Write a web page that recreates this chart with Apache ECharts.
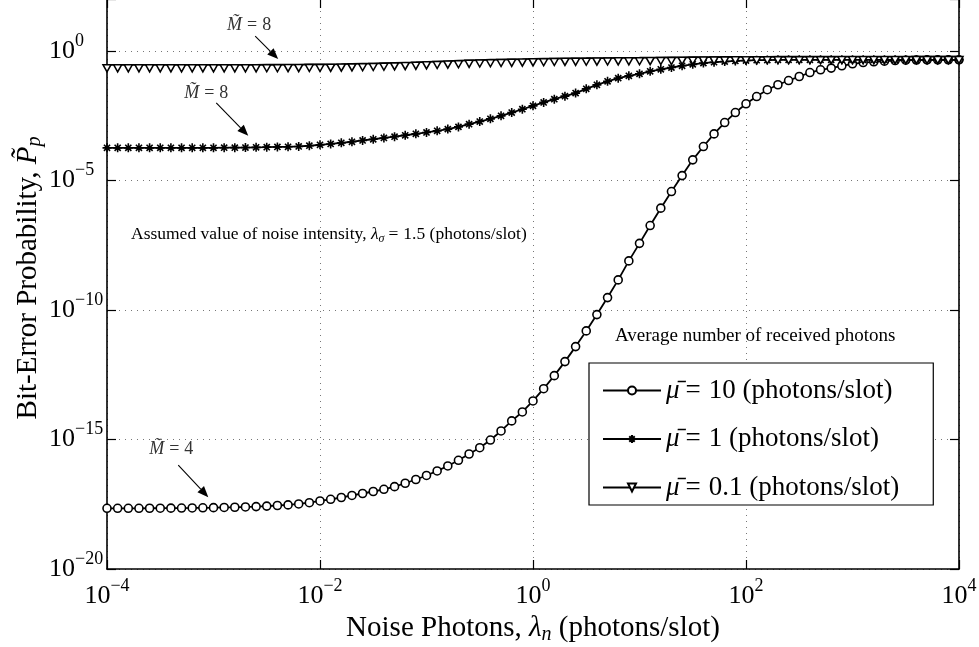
<!DOCTYPE html>
<html>
<head>
<meta charset="utf-8">
<script src="https://cdn.jsdelivr.net/npm/echarts@6/dist/echarts.min.js"></script>
<style>
  html, body { margin: 0; padding: 0; background: #fff; }
  #chart { width: 979px; height: 647px; }
</style>
</head>
<body>
<div id="chart"></div>
<script>
// Noise photons per slot (x), 10 samples per decade from 1e-4 to 1e4
const noisePhotons = [
  1e-4, 1.259e-4, 1.585e-4, 1.995e-4, 2.512e-4, 3.162e-4, 3.981e-4, 5.012e-4, 6.31e-4, 7.943e-4,
  1e-3, 1.259e-3, 1.585e-3, 1.995e-3, 2.512e-3, 3.162e-3, 3.981e-3, 5.012e-3, 6.31e-3, 7.943e-3,
  1e-2, 1.259e-2, 1.585e-2, 1.995e-2, 2.512e-2, 3.162e-2, 3.981e-2, 5.012e-2, 6.31e-2, 7.943e-2,
  0.1, 0.1259, 0.1585, 0.1995, 0.2512, 0.3162, 0.3981, 0.5012, 0.631, 0.7943,
  1, 1.259, 1.585, 1.995, 2.512, 3.162, 3.981, 5.012, 6.31, 7.943,
  10, 12.59, 15.85, 19.95, 25.12, 31.62, 39.81, 50.12, 63.1, 79.43,
  100, 125.9, 158.5, 199.5, 251.2, 316.2, 398.1, 501.2, 631, 794.3,
  1000, 1259, 1585, 1995, 2512, 3162, 3981, 5012, 6310, 7943,
  10000
];

// Bit-error probability, mean signal 10 photons/slot (M = 4)
const berMu10 = [
  2.2e-18, 2.2e-18, 2.2e-18, 2.2e-18, 2.21e-18, 2.22e-18, 2.23e-18, 2.25e-18, 2.27e-18, 2.3e-18,
  2.33e-18, 2.37e-18, 2.42e-18, 2.48e-18, 2.56e-18, 2.68e-18, 2.82e-18, 2.98e-18, 3.24e-18, 3.63e-18,
  4.22e-18, 4.9e-18, 5.75e-18, 6.9e-18, 8.2e-18, 9.8e-18, 1.19e-17, 1.51e-17, 2.04e-17, 2.85e-17,
  4.07e-17, 6.1e-17, 9.5e-17, 1.57e-16, 2.75e-16, 4.8e-16, 9.5e-16, 2.13e-15, 5.2e-15, 1.15e-14,
  3.06e-14, 9.1e-14, 2.9e-13, 1.01e-12, 3.83e-12, 1.55e-11, 6.6e-11, 2.99e-10, 1.44e-9, 7.8e-9,
  3.7e-8, 1.8e-7, 8.45e-7, 3.7e-6, 1.53e-5, 6.2e-5, 2.02e-4, 6.2e-4, 1.7e-3, 4.15e-3,
  9.0e-3, 0.0172, 0.0315, 0.049, 0.0713, 0.102, 0.145, 0.185, 0.215, 0.264,
  0.315, 0.353, 0.376, 0.40, 0.422, 0.434, 0.441, 0.446, 0.449, 0.45,
  0.45
];

// Bit-error probability, mean signal 1 photon/slot (M = 8)
const berMu1 = [
  1.8e-4, 1.8e-4, 1.8e-4, 1.8e-4, 1.8e-4, 1.8e-4, 1.8e-4, 1.8e-4, 1.8e-4, 1.8e-4,
  1.8e-4, 1.82e-4, 1.83e-4, 1.85e-4, 1.88e-4, 1.91e-4, 1.95e-4, 1.98e-4, 2.04e-4, 2.17e-4,
  2.35e-4, 2.54e-4, 2.8e-4, 3.09e-4, 3.47e-4, 3.86e-4, 4.34e-4, 4.86e-4, 5.51e-4, 6.24e-4,
  7.07e-4, 8.15e-4, 9.5e-4, 1.16e-3, 1.48e-3, 1.86e-3, 2.37e-3, 3.09e-3, 4.15e-3, 5.56e-3,
  7.52e-3, 0.0102, 0.0136, 0.0178, 0.0233, 0.0341, 0.0486, 0.0664, 0.0883, 0.108,
  0.129, 0.162, 0.193, 0.227, 0.264, 0.301, 0.335, 0.363, 0.386, 0.407,
  0.422, 0.434, 0.441, 0.45, 0.45, 0.45, 0.45, 0.45, 0.45, 0.45,
  0.45, 0.45, 0.45, 0.45, 0.45, 0.45, 0.45, 0.45, 0.45, 0.45,
  0.45
];

// Bit-error probability, mean signal 0.1 photons/slot (M = 8)
const berMu01 = [
  0.288, 0.288, 0.288, 0.288, 0.288, 0.288, 0.288, 0.288, 0.288, 0.288,
  0.288, 0.288, 0.288, 0.288, 0.288, 0.29, 0.29, 0.293, 0.293, 0.296,
  0.298, 0.301, 0.306, 0.312, 0.318, 0.323, 0.332, 0.341, 0.35, 0.36,
  0.373, 0.386, 0.40, 0.415, 0.43, 0.441, 0.453, 0.461, 0.47, 0.478,
  0.487, 0.496, 0.504, 0.509, 0.514, 0.518, 0.523, 0.527, 0.532, 0.537,
  0.541, 0.546, 0.55, 0.555, 0.56, 0.565, 0.571, 0.575, 0.578, 0.582,
  0.586, 0.587, 0.588, 0.589, 0.59, 0.591, 0.592, 0.593, 0.594, 0.595,
  0.596, 0.597, 0.598, 0.598, 0.599, 0.599, 0.6, 0.6, 0.6, 0.6,
  0.6
];

const seriesNames = ['mu10', 'mu1', 'mu01'];
const legendValues = ['10', '1', '0.1'];

// Arrow annotations: tip in data space, tail and label offsets in pixels
const arrowNotes = [
  { m: '8', tip: [4.05e-3, 0.478], tail: [-23, -23], label: [-29, -34] },
  { m: '8', tip: [2.12e-3, 5.22e-4], tail: [-32, -33], label: [-42, -43] },
  { m: '4', tip: [8.93e-4, 5.9e-18], tail: [-30, -32], label: [-37, -48] }
];

const SERIF = '"Liberation Serif", "DejaVu Serif", serif';
const pair = (ys) => noisePhotons.map((x, i) => [x, ys[i]]);

function powLabel(v) {
  const e = Math.round(Math.log10(v));
  return '{b|10}{s|' + (e < 0 ? '\u2212' : '') + Math.abs(e) + '}';
}
const powRich = {
  b: { fontSize: 26, fontFamily: SERIF, color: '#000', lineHeight: 38 },
  s: { fontSize: 18, fontFamily: SERIF, color: '#000', verticalAlign: 'top', lineHeight: 16 }
};

function titleRich(size) {
  return {
    r: { fontSize: size, fontFamily: SERIF, color: '#000', lineHeight: size + 4 },
    i: { fontSize: size, fontFamily: SERIF, fontStyle: 'italic', color: '#000', lineHeight: size + 4 },
    sub: { fontSize: Math.round(size * 0.68), fontFamily: SERIF, fontStyle: 'italic', color: '#000',
           verticalAlign: 'bottom', lineHeight: size - 2 }
  };
}

const lineStyle = { color: '#000', width: 1.8 };
const starPath = 'path://M5,0L5,10M0,5L10,5M1.6,1.6L8.4,8.4M8.4,1.6L1.6,8.4';
const triPath = 'path://M0,0L10,0L5,8.7Z';
const tickStyle = { show: true, inside: true, length: 9, lineStyle: { color: '#000', width: 1.2 } };
const frameLine = { show: true, lineStyle: { color: '#000', width: 1.6 } };
const gridDots = { show: true, lineStyle: { type: [1, 5], color: '#777', width: 1 } };

const chart = echarts.init(document.getElementById('chart'), null, { renderer: 'canvas' });

const option = {
  animation: false,
  backgroundColor: '#fff',
  grid: { left: 107, right: 20, top: -1, bottom: 78, containLabel: false, outerBoundsMode: 'none' },
  xAxis: [{
    type: 'log', logBase: 100, min: 1e-4, max: 1e4,
    position: 'bottom',
    name: '{r|Noise Photons, }{i|λ}{sub|n}{r| (photons/slot)}',
    nameLocation: 'middle', nameGap: 41,
    nameTextStyle: { rich: titleRich(29) },
    axisLine: frameLine,
    axisTick: tickStyle,
    axisLabel: { margin: 8, formatter: powLabel, rich: powRich },
    splitLine: gridDots
  }, {
    type: 'log', logBase: 100, min: 1e-4, max: 1e4,
    position: 'top',
    axisLine: frameLine,
    axisTick: tickStyle,
    axisLabel: { show: false },
    splitLine: { show: false }
  }],
  yAxis: [{
    type: 'log', logBase: 100000, min: 1e-20, max: 1e2,
    position: 'left',
    name: '{r|Bit-Error Probability, }{i|P̃}{sub|p}',
    nameLocation: 'middle', nameGap: 62, nameRotate: 90, nameMoveOverlap: false,
    nameTextStyle: { rich: titleRich(29), padding: [0, 0, 0, 12] },
    axisLine: frameLine,
    axisTick: tickStyle,
    axisLabel: {
      margin: 58, align: 'left',
      formatter: (v) => (Math.round(Math.log10(v)) % 5 === 0 && Math.log10(v) < 1 ? powLabel(v) : ''),
      rich: powRich
    },
    splitLine: gridDots
  }, {
    type: 'log', logBase: 100000, min: 1e-20, max: 1e2,
    position: 'right',
    axisLine: frameLine,
    axisTick: tickStyle,
    axisLabel: { show: false },
    splitLine: { show: false }
  }],
  legend: {
    orient: 'vertical',
    left: 589, top: 363,
    padding: [14, 34, 4, 13],
    itemGap: 21.5,
    itemWidth: 58, itemHeight: 10,
    backgroundColor: '#fff',
    borderColor: '#000', borderWidth: 1.2, borderRadius: 0,
    data: seriesNames,
    formatter: (name) => '{i|μ̄}{e|=}{r|' + legendValues[seriesNames.indexOf(name)] + ' (photons/slot)}',
    textStyle: {
      rich: {
        r: { fontSize: 27, fontFamily: SERIF, color: '#000', lineHeight: 34 },
        e: { fontSize: 27, fontFamily: SERIF, color: '#000', lineHeight: 34, padding: [0, 8, 0, 6] },
        i: { fontSize: 27, fontFamily: SERIF, fontStyle: 'italic', color: '#000', lineHeight: 34 }
      }
    }
  },
  series: [{
    name: 'mu10', type: 'line', data: pair(berMu10),
    symbol: 'circle', symbolSize: 8, showAllSymbol: true,
    lineStyle, itemStyle: { color: '#fff', borderColor: '#000', borderWidth: 1.6 },
    z: 2
  }, {
    name: 'mu1', type: 'line', data: pair(berMu1),
    symbol: starPath, symbolSize: 9, showAllSymbol: true,
    lineStyle, itemStyle: { color: '#000', borderColor: '#000', borderWidth: 1.6 },
    z: 3
  }, {
    name: 'mu01', type: 'line', data: pair(berMu01),
    symbol: triPath, symbolSize: [8, 7], symbolOffset: [0, 3.5], showAllSymbol: true,
    lineStyle, itemStyle: { color: '#fff', borderColor: '#000', borderWidth: 1.5 },
    z: 4
  }]
};

chart.setOption(option);

// Text and arrow annotations
const graphics = [
  {
    type: 'text', x: 131, y: 234, z: 10,
    style: {
      text: '{r|Assumed value of noise intensity, }{i|λ}{sub|σ}{e|=}{r|1.5 (photons/slot)}',
      verticalAlign: 'middle',
      rich: {
        r: { fontSize: 17.5, fontFamily: SERIF, fill: '#000', lineHeight: 22 },
        e: { fontSize: 17.5, fontFamily: SERIF, fill: '#000', lineHeight: 22, padding: [0, 5, 0, 4] },
        i: { fontSize: 17.5, fontFamily: SERIF, fontStyle: 'italic', fill: '#000', lineHeight: 22 },
        sub: { fontSize: 12, fontFamily: SERIF, fontStyle: 'italic', fill: '#000', verticalAlign: 'bottom', lineHeight: 16 }
      }
    }
  },
  {
    type: 'text', x: 615, y: 336, z: 10,
    style: { text: 'Average number of received photons', font: '19px ' + SERIF, fill: '#000', verticalAlign: 'middle' }
  }
];

arrowNotes.forEach((n) => {
  const p = chart.convertToPixel({ gridIndex: 0 }, n.tip);
  const tx = p[0] + n.tail[0], ty = p[1] + n.tail[1];
  const dx = p[0] - tx, dy = p[1] - ty;
  const len = Math.sqrt(dx * dx + dy * dy);
  const ux = dx / len, uy = dy / len;
  const headLen = 11, headHalf = 4.5;
  const bx = p[0] - ux * headLen, by = p[1] - uy * headLen;
  graphics.push({
    type: 'line', z: 10,
    shape: { x1: tx, y1: ty, x2: bx, y2: by },
    style: { stroke: '#000', lineWidth: 1.1 }
  });
  graphics.push({
    type: 'polygon', z: 10,
    shape: { points: [[p[0], p[1]], [bx - uy * headHalf, by + ux * headHalf], [bx + uy * headHalf, by - ux * headHalf]] },
    style: { fill: '#000' }
  });
  graphics.push({
    type: 'text', z: 10,
    x: p[0] + n.label[0], y: p[1] + n.label[1],
    style: {
      text: '{i|M̃}{e|=}{r|' + n.m + '}',
      align: 'center', verticalAlign: 'middle',
      rich: {
        i: { fontSize: 18, fontFamily: SERIF, fontStyle: 'italic', fill: '#333' },
        e: { fontSize: 18, fontFamily: SERIF, fill: '#333', padding: [0, 5, 0, 5] },
        r: { fontSize: 18, fontFamily: SERIF, fill: '#333' }
      }
    }
  });
});

chart.setOption({ graphic: graphics });
</script>
</body>
</html>
